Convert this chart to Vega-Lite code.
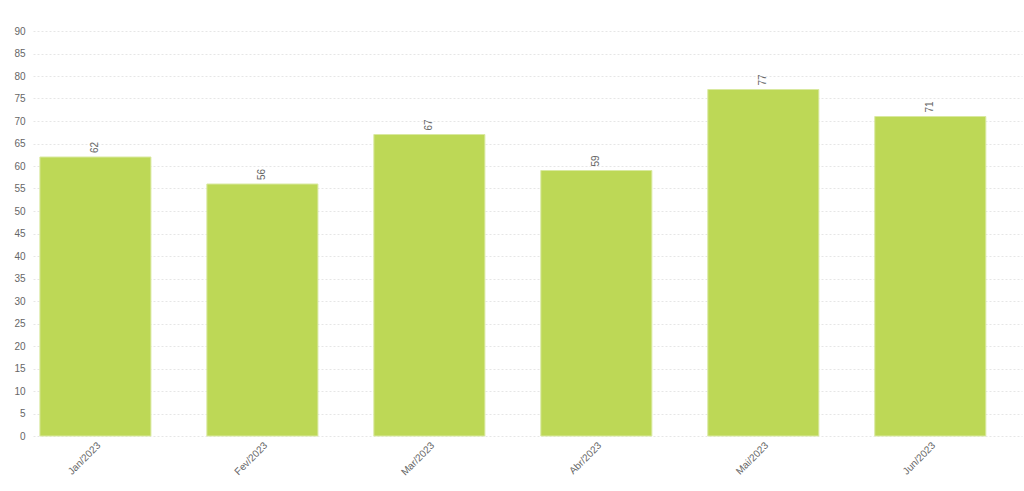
{
  "$schema": "https://vega.github.io/schema/vega-lite/v6.json",
  "width": 989,
  "height": 405,
  "autosize": "none",
  "padding": {"left": 33, "top": 31, "right": 2, "bottom": 55},
  "background": "white",
  "config": {
    "view": {"stroke": null},
    "axis": {
      "labelFont": "Liberation Sans",
      "labelColor": "#666666",
      "labelFontSize": 10,
      "gridColor": "#e6e6e6",
      "gridDash": [2, 2],
      "domain": false,
      "ticks": false
    }
  },
  "data": {
    "values": [
      {"mes": "Jan/2023", "valor": 62},
      {"mes": "Fev/2023", "valor": 56},
      {"mes": "Mar/2023", "valor": 67},
      {"mes": "Abr/2023", "valor": 59},
      {"mes": "Mai/2023", "valor": 77},
      {"mes": "Jun/2023", "valor": 71}
    ]
  },
  "encoding": {
    "x": {
      "field": "mes",
      "type": "nominal",
      "sort": null,
      "title": null,
      "scale": {"paddingInner": 0.335, "paddingOuter": 0.129, "align": 0.16},
      "axis": {"labelAngle": -45, "labelPadding": 4, "grid": false}
    },
    "y": {
      "field": "valor",
      "type": "quantitative",
      "title": null,
      "scale": {"domain": [0, 90], "nice": false},
      "axis": {"values": [0, 5, 10, 15, 20, 25, 30, 35, 40, 45, 50, 55, 60, 65, 70, 75, 80, 85, 90], "labelPadding": 8, "grid": true}
    }
  },
  "layer": [
    {
      "mark": {"type": "bar", "color": "#bdd856", "stroke": "#d9e9a0", "strokeWidth": 1}
    },
    {
      "mark": {
        "type": "text",
        "angle": -90,
        "align": "left",
        "baseline": "middle",
        "dx": 4,
        "font": "Liberation Sans",
        "fontSize": 10,
        "color": "#666666"
      },
      "encoding": {"text": {"field": "valor", "type": "quantitative"}}
    }
  ]
}
